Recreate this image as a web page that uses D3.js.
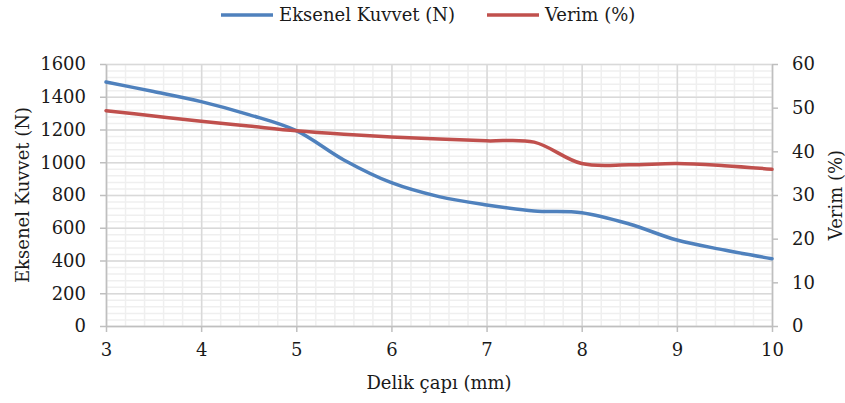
<html>
  <head>
    <script src="https://cdnjs.cloudflare.com/ajax/libs/d3/7.8.5/d3.min.js"></script>
  </head>
  <body style="margin:0;background:#fff;">
    <style>
      svg text {font-family:"DejaVu Serif",serif; font-size:18px; fill:#1a1a1a;}
      .major line {stroke:#d9d9d9; stroke-width:1.5;}
      .minor line {stroke:#efefef; stroke-width:1.5;}
      .axis path, .axis line {stroke:#bfbfbf; stroke-width:1.5;}
    </style>
    <div id="scene"></div>
    <script>


// D A T A

      let diameters  = [3, 3.5, 4, 4.5, 5, 5.5, 6, 6.5, 7, 7.5, 8, 8.5, 9, 9.5, 10]
      let axialForce = [1490, 1432, 1370, 1291, 1193, 1014, 875, 790, 739, 702, 692, 623, 525, 464, 411]
      let efficiency = [49.3, 48.1, 46.9, 45.8, 44.7, 43.9, 43.3, 42.8, 42.4, 42.1, 37.2, 36.9, 37.2, 36.7, 35.9]

      let xTicks = [3, 4, 5, 6, 7, 8, 9, 10]
      let leftTicks = [0, 200, 400, 600, 800, 1000, 1200, 1400, 1600]
      let rightTicks = [0, 10, 20, 30, 40, 50, 60]

      let series = [
        {name:"Eksenel Kuvvet (N)", values:axialForce, color:"#4f81bd", axis:"left"},
        {name:"Verim (%)", values:efficiency, color:"#c0504d", axis:"right"}
      ]


// F R A M E

      var margin = {top: 64, right: 73, bottom: 77, left: 106},
          width = 845 - margin.left - margin.right,
          height = 403 - margin.top - margin.bottom;

      var root = d3.select("#scene")
        .append("svg")
          .attr("width", 845)
          .attr("height", 403)
      var svg = root.append("g")
          .attr("transform", "translate(" + margin.left + "," + margin.top + ")");

      var x = d3.scaleLinear().domain([3, 10]).range([0, width])
      var yl = d3.scaleLinear().domain([0, 1600]).range([height, 0])
      var yr = d3.scaleLinear().domain([0, 60]).range([height, 0])
      let plain = d3.format("d")


// G R I D

      // minor every 0.2 mm and 40 N, major on the labelled ticks
      svg.append("g")
        .attr("class", "minor")
        .call(d3.axisBottom(x).tickValues(d3.range(3, 10.01, 0.2)).tickSize(-height).tickFormat(""))
        .attr("transform", `translate(0,${height})`)
        .select(".domain").remove()
      svg.append("g")
        .attr("class", "minor")
        .call(d3.axisLeft(yl).tickValues(d3.range(0, 1601, 40)).tickSize(-width).tickFormat(""))
        .select(".domain").remove()

      svg.append("g")
        .attr("class", "major")
        .call(d3.axisBottom(x).tickValues(xTicks).tickSize(-height).tickFormat(""))
        .attr("transform", `translate(0,${height})`)
        .select(".domain").remove()
      svg.append("g")
        .attr("class", "major")
        .call(d3.axisLeft(yl).tickValues(leftTicks).tickSize(-width).tickFormat(""))
        .select(".domain").remove()


// A X I S

      svg.append("g")
        .attr("class", "axis")
        .attr("transform", `translate(0,${height})`)
        .call(d3.axisBottom(x).tickValues(xTicks).tickFormat(plain).tickSize(6).tickSizeOuter(0).tickPadding(11))
      svg.append("g")
        .attr("class", "axis")
        .call(d3.axisLeft(yl).tickValues(leftTicks).tickFormat(plain).tickSize(6).tickSizeOuter(0).tickPadding(14))
      svg.append("g")
        .attr("class", "axis")
        .attr("transform", `translate(${width},0)`)
        .call(d3.axisRight(yr).tickValues(rightTicks).tickFormat(plain).tickSize(6).tickSizeOuter(0).tickPadding(14))

      root.append("text")
        .attr("x", margin.left + width/2)
        .attr("y", 389)
        .attr("text-anchor", "middle")
        .text("Delik çapı (mm)")

      root.append("text")
        .attr("transform", `translate(29,${margin.top + height/2}) rotate(-90)`)
        .attr("text-anchor", "middle")
        .text("Eksenel Kuvvet (N)")

      root.append("text")
        .attr("transform", `translate(842,${margin.top + height/2}) rotate(-90)`)
        .attr("text-anchor", "middle")
        .text("Verim (%)")


// L I N E S

      for (let s of series) {
        let y = s.axis == "left" ? yl : yr
        let line = d3.line()
          .x((d, i) => x(diameters[i]))
          .y(d => y(d))
          .curve(d3.curveCatmullRom)
        svg.append("path")
          .datum(s.values)
          .attr("d", line)
          .attr("fill", "none")
          .attr("stroke", s.color)
          .attr("stroke-width", 3.5)
          .attr("stroke-linecap", "round")
      }


// L E G E N D

      let legendX = [221, 487]
      let legend = root.append("g")
        .selectAll("g")
        .data(series)
        .enter()
          .append("g")
          .attr("transform", (d, i) => `translate(${legendX[i]},15)`)
      legend.append("line")
        .attr("x2", 52)
        .attr("stroke", d => d.color)
        .attr("stroke-width", 3.5)
      legend.append("text")
        .attr("x", 58)
        .attr("dy", "0.35em")
        .text(d => d.name)

    </script>
  </body>
</html>
